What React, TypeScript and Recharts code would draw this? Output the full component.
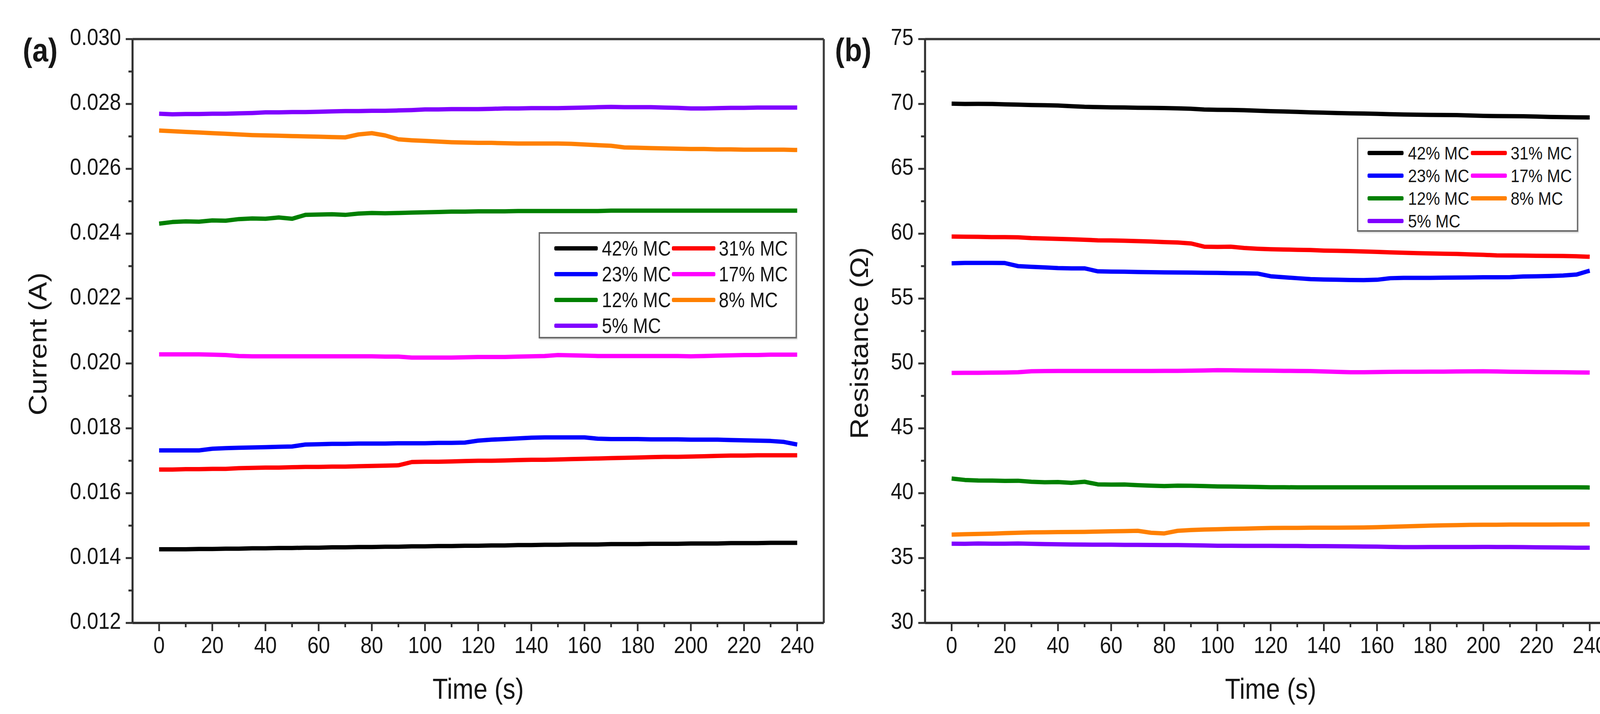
import React from 'react';
import { LineChart, Line, XAxis, YAxis, ReferenceLine } from 'recharts';

// sample times (s)
const times = [
  0, 5, 10, 15, 20, 25, 30, 35, 40, 45,
  50, 55, 60, 65, 70, 75, 80, 85, 90, 95,
  100, 105, 110, 115, 120, 125, 130, 135, 140, 145,
  150, 155, 160, 165, 170, 175, 180, 185, 190, 195,
  200, 205, 210, 215, 220, 225, 230, 235, 240,
];

const xTicks = [0, 10, 20, 30, 40, 50, 60, 70, 80, 90, 100, 110, 120, 130, 140, 150, 160, 170, 180, 190, 200, 210, 220, 230, 240];
const currentTicks = [0.012, 0.013, 0.014, 0.015, 0.016, 0.017, 0.018, 0.019, 0.020, 0.021, 0.022, 0.023, 0.024, 0.025, 0.026, 0.027, 0.028, 0.029, 0.030];
const resistanceTicks = [30, 32.5, 35, 37.5, 40, 42.5, 45, 47.5, 50, 52.5, 55, 57.5, 60, 62.5, 65, 67.5, 70, 72.5, 75];

const seriesNames = ['42% MC', '31% MC', '23% MC', '17% MC', '12% MC', '8% MC', '5% MC'];
const seriesKeys = ['mc42', 'mc31', 'mc23', 'mc17', 'mc12', 'mc8', 'mc5'];
const seriesColors = ['#000000', '#ff0000', '#0000ff', '#ff00ff', '#008000', '#ff8000', '#8000ff'];

// (a) current, A
const current42 = [
  0.01427, 0.01427, 0.01427, 0.01428, 0.01428, 0.01429, 0.01429, 0.01430, 0.01430, 0.01431,
  0.01431, 0.01432, 0.01432, 0.01433, 0.01433, 0.01434, 0.01434, 0.01435, 0.01435, 0.01436,
  0.01436, 0.01437, 0.01437, 0.01438, 0.01438, 0.01439, 0.01439, 0.01440, 0.01440, 0.01441,
  0.01441, 0.01442, 0.01442, 0.01442, 0.01443, 0.01443, 0.01443, 0.01444, 0.01444, 0.01444,
  0.01445, 0.01445, 0.01445, 0.01446, 0.01446, 0.01446, 0.01447, 0.01447, 0.01447,
];
const current31 = [
  0.01673, 0.01673, 0.01674, 0.01674, 0.01675, 0.01675, 0.01677, 0.01678, 0.01679, 0.01679,
  0.01680, 0.01681, 0.01681, 0.01682, 0.01682, 0.01683, 0.01684, 0.01685, 0.01686, 0.01696,
  0.01697, 0.01697, 0.01698, 0.01699, 0.01700, 0.01700, 0.01701, 0.01702, 0.01703, 0.01703,
  0.01704, 0.01705, 0.01706, 0.01707, 0.01708, 0.01709, 0.01710, 0.01711, 0.01712, 0.01712,
  0.01713, 0.01714, 0.01715, 0.01716, 0.01716, 0.01717, 0.01717, 0.01717, 0.01717,
];
const current23 = [
  0.01732, 0.01732, 0.01732, 0.01732, 0.01737, 0.01739, 0.01740, 0.01741, 0.01742, 0.01743,
  0.01744, 0.01750, 0.01751, 0.01752, 0.01752, 0.01753, 0.01753, 0.01753, 0.01754, 0.01754,
  0.01754, 0.01755, 0.01755, 0.01756, 0.01762, 0.01765, 0.01767, 0.01769, 0.01771, 0.01772,
  0.01772, 0.01772, 0.01772, 0.01768, 0.01767, 0.01767, 0.01767, 0.01766, 0.01766, 0.01766,
  0.01765, 0.01765, 0.01765, 0.01764, 0.01763, 0.01762, 0.01761, 0.01758, 0.01750,
];
const current17 = [
  0.02028, 0.02028, 0.02028, 0.02028, 0.02027, 0.02026, 0.02023, 0.02022, 0.02022, 0.02022,
  0.02022, 0.02022, 0.02022, 0.02022, 0.02022, 0.02022, 0.02022, 0.02021, 0.02021, 0.02018,
  0.02018, 0.02018, 0.02018, 0.02019, 0.02020, 0.02020, 0.02020, 0.02021, 0.02022, 0.02023,
  0.02026, 0.02025, 0.02024, 0.02023, 0.02023, 0.02023, 0.02023, 0.02023, 0.02023, 0.02023,
  0.02022, 0.02023, 0.02024, 0.02025, 0.02026, 0.02026, 0.02027, 0.02027, 0.02027,
];
const current12 = [
  0.02431, 0.02436, 0.02438, 0.02437, 0.02441, 0.02440, 0.02445, 0.02447, 0.02446, 0.02450,
  0.02446, 0.02458, 0.02459, 0.02460, 0.02458, 0.02462, 0.02464, 0.02463, 0.02464, 0.02465,
  0.02466, 0.02467, 0.02468, 0.02468, 0.02469, 0.02469, 0.02469, 0.02470, 0.02470, 0.02470,
  0.02470, 0.02470, 0.02470, 0.02470, 0.02471, 0.02471, 0.02471, 0.02471, 0.02471, 0.02471,
  0.02471, 0.02471, 0.02471, 0.02471, 0.02471, 0.02471, 0.02471, 0.02471, 0.02471,
];
const current8 = [
  0.02718, 0.02716, 0.02714, 0.02712, 0.02710, 0.02708, 0.02706, 0.02704, 0.02703, 0.02702,
  0.02701, 0.02700, 0.02699, 0.02698, 0.02697, 0.02706, 0.02710, 0.02703, 0.02691, 0.02688,
  0.02686, 0.02684, 0.02682, 0.02681, 0.02680, 0.02680, 0.02679, 0.02678, 0.02678, 0.02678,
  0.02678, 0.02677, 0.02675, 0.02673, 0.02671, 0.02666, 0.02665, 0.02664, 0.02663, 0.02662,
  0.02661, 0.02661, 0.02660, 0.02660, 0.02659, 0.02659, 0.02659, 0.02659, 0.02658,
];
const current5 = [
  0.02770, 0.02768, 0.02769, 0.02769, 0.02770, 0.02770, 0.02771, 0.02772, 0.02774, 0.02774,
  0.02775, 0.02775, 0.02776, 0.02777, 0.02778, 0.02778, 0.02779, 0.02779, 0.02780, 0.02781,
  0.02783, 0.02783, 0.02784, 0.02784, 0.02784, 0.02785, 0.02786, 0.02786, 0.02787, 0.02787,
  0.02787, 0.02788, 0.02789, 0.02790, 0.02791, 0.02790, 0.02790, 0.02790, 0.02789, 0.02788,
  0.02786, 0.02786, 0.02787, 0.02788, 0.02788, 0.02789, 0.02789, 0.02789, 0.02789,
];

// (b) resistance, ohm
const resistance42 = [
  70.02, 70.00, 70.01, 70.00, 69.97, 69.95, 69.92, 69.90, 69.88, 69.83,
  69.78, 69.76, 69.74, 69.73, 69.71, 69.70, 69.68, 69.66, 69.63, 69.57,
  69.55, 69.54, 69.52, 69.48, 69.44, 69.42, 69.39, 69.35, 69.33, 69.30,
  69.28, 69.26, 69.24, 69.21, 69.19, 69.17, 69.16, 69.15, 69.14, 69.11,
  69.08, 69.07, 69.06, 69.05, 69.03, 69.00, 68.98, 68.97, 68.96,
];
const resistance31 = [
  59.78, 59.77, 59.76, 59.74, 59.74, 59.72, 59.66, 59.63, 59.60, 59.57,
  59.53, 59.49, 59.48, 59.46, 59.43, 59.40, 59.35, 59.32, 59.25, 59.00,
  58.98, 59.00, 58.90, 58.84, 58.80, 58.78, 58.76, 58.74, 58.70, 58.68,
  58.66, 58.63, 58.60, 58.56, 58.53, 58.50, 58.48, 58.46, 58.44, 58.40,
  58.37, 58.33, 58.32, 58.31, 58.30, 58.29, 58.28, 58.26, 58.22,
];
const resistance23 = [
  57.72, 57.75, 57.75, 57.75, 57.74, 57.50, 57.45, 57.40, 57.35, 57.33,
  57.33, 57.10, 57.08, 57.07, 57.05, 57.03, 57.02, 57.01, 57.00, 56.99,
  56.98, 56.96, 56.95, 56.93, 56.72, 56.64, 56.57, 56.50, 56.47, 56.45,
  56.43, 56.42, 56.45, 56.57, 56.60, 56.60, 56.60, 56.61, 56.62, 56.63,
  56.64, 56.64, 56.65, 56.70, 56.72, 56.74, 56.78, 56.85, 57.15,
];
const resistance17 = [
  49.27, 49.28, 49.28, 49.29, 49.30, 49.32, 49.40, 49.41, 49.42, 49.42,
  49.42, 49.42, 49.42, 49.42, 49.42, 49.42, 49.43, 49.43, 49.44, 49.46,
  49.48, 49.47, 49.46, 49.45, 49.44, 49.43, 49.42, 49.41, 49.38, 49.35,
  49.32, 49.32, 49.34, 49.35, 49.36, 49.36, 49.37, 49.37, 49.38, 49.39,
  49.40, 49.38, 49.36, 49.35, 49.34, 49.33, 49.32, 49.31, 49.30,
];
const resistance12 = [
  41.13, 41.02, 40.98, 40.97, 40.95, 40.96, 40.88, 40.84, 40.86, 40.80,
  40.88, 40.68, 40.66, 40.67, 40.62, 40.58, 40.55, 40.58, 40.57, 40.55,
  40.52, 40.51, 40.50, 40.48, 40.46, 40.46, 40.45, 40.45, 40.45, 40.45,
  40.45, 40.45, 40.45, 40.45, 40.45, 40.45, 40.45, 40.45, 40.45, 40.45,
  40.45, 40.45, 40.45, 40.45, 40.45, 40.45, 40.45, 40.45, 40.44,
];
const resistance8 = [
  36.81, 36.84, 36.86, 36.88, 36.92, 36.95, 36.98, 36.99, 37.00, 37.01,
  37.02, 37.04, 37.06, 37.08, 37.10, 36.95, 36.90, 37.10, 37.16, 37.20,
  37.22, 37.25, 37.27, 37.30, 37.32, 37.33, 37.33, 37.34, 37.34, 37.34,
  37.35, 37.36, 37.38, 37.41, 37.44, 37.47, 37.50, 37.52, 37.54, 37.56,
  37.57, 37.57, 37.58, 37.58, 37.58, 37.58, 37.59, 37.59, 37.60,
];
const resistance5 = [
  36.11, 36.10, 36.12, 36.11, 36.11, 36.12, 36.10, 36.08, 36.06, 36.05,
  36.04, 36.03, 36.03, 36.02, 36.02, 36.01, 36.00, 36.00, 35.99, 35.97,
  35.95, 35.95, 35.94, 35.94, 35.94, 35.93, 35.93, 35.92, 35.92, 35.91,
  35.90, 35.89, 35.88, 35.86, 35.84, 35.84, 35.85, 35.85, 35.85, 35.85,
  35.86, 35.85, 35.85, 35.84, 35.83, 35.82, 35.81, 35.80, 35.80,
];

const currentSeries = [current42, current31, current23, current17, current12, current8, current5];
const resistanceSeries = [resistance42, resistance31, resistance23, resistance17, resistance12, resistance8, resistance5];

const buildRows = (series: number[][]) =>
  times.map((t, i) => {
    const row: any = { t };
    seriesKeys.forEach((k, j) => {
      row[k] = series[j][i];
    });
    return row;
  });

const currentData = buildRows(currentSeries);
const resistanceData = buildRows(resistanceSeries);

// the original figure is squeezed horizontally; draw wide and scale down
const SQUEEZE = 0.87;
const FONT = '"Liberation Sans", Arial, Helvetica, sans-serif';
const INK = '#161616';
const AXIS = '#303030';

const YTick = (props: any) => {
  const { x, y, payload, isMajor, fmt } = props;
  const major = isMajor(payload.value);
  return (
    <g>
      <line x1={x} y1={y} x2={x - (major ? 20 : 12)} y2={y} stroke={AXIS} strokeWidth={5} />
      {major && (
        <text x={x - 34} y={y + 15} textAnchor="end" fontSize={60} fontFamily={FONT} fill={INK}>
          {fmt(payload.value)}
        </text>
      )}
    </g>
  );
};

const XTick = (props: any) => {
  const { x, y, payload } = props;
  const major = payload.value % 20 === 0;
  return (
    <g>
      <line x1={x} y1={y} x2={x} y2={y + (major ? 21 : 11)} stroke={AXIS} strokeWidth={5} />
      {major && (
        <text x={x} y={y + 77} textAnchor="middle" fontSize={60} fontFamily={FONT} fill={INK}>
          {payload.value}
        </text>
      )}
    </g>
  );
};

interface PanelProps {
  data: any[];
  width: number;
  yAxisWidth: number;
  marginRight: number;
  domain: [number, number];
  yTicks: number[];
  isMajor: (v: number) => boolean;
  fmt: (v: number) => string;
}

function Panel({ data, width, yAxisWidth, marginRight, domain, yTicks, isMajor, fmt }: PanelProps) {
  return (
    <LineChart
      width={width}
      height={1827}
      data={data}
      margin={{ top: 100, right: marginRight, bottom: 0, left: 0 }}
    >
      <XAxis
        dataKey="t"
        type="number"
        domain={[-10, 250]}
        ticks={xTicks}
        interval={0}
        height={233}
        tickSize={0}
        tickMargin={0}
        tickLine={false}
        axisLine={{ stroke: AXIS, strokeWidth: 6 }}
        tick={(p: any) => <XTick {...p} />}
        allowDataOverflow
        label={{
          value: 'Time (s)',
          position: 'insideBottom',
          offset: 39,
          style: { fontSize: 74, fontFamily: FONT, fill: INK },
        }}
      />
      <YAxis
        type="number"
        domain={domain}
        ticks={yTicks}
        interval={0}
        width={yAxisWidth}
        tickSize={0}
        tickMargin={0}
        tickLine={false}
        axisLine={{ stroke: AXIS, strokeWidth: 6 }}
        tick={(p: any) => <YTick {...p} isMajor={isMajor} fmt={fmt} />}
        allowDataOverflow
      />
      <ReferenceLine y={domain[1]} stroke="#3c3c3c" strokeWidth={6} />
      <ReferenceLine x={250} stroke="#3c3c3c" strokeWidth={6} />
      {seriesKeys.map((k, i) => (
        <Line
          key={k}
          type="linear"
          dataKey={k}
          name={seriesNames[i]}
          stroke={seriesColors[i]}
          strokeWidth={11}
          strokeLinejoin="round"
          dot={false}
          activeDot={false}
          isAnimationActive={false}
        />
      ))}
    </LineChart>
  );
}

interface LegendProps {
  left: number;
  top: number;
  width: number;
  height: number;
  rowTop: number;
  rowGap: number;
  lineX: [number, number];
  textX: [number, number];
  lineLen: number;
  fontSize: number;
}

function LegendBox({ left, top, width, height, rowTop, rowGap, lineX, textX, lineLen, fontSize }: LegendProps) {
  return (
    <div
      style={{
        position: 'absolute',
        left,
        top,
        width,
        height,
        boxSizing: 'border-box',
        border: '4px solid #6a6a6a',
        boxShadow: '2px 3px 3px rgba(0,0,0,0.18)',
        background: '#ffffff',
      }}
    >
      {seriesNames.map((name, i) => {
        const col = i % 2;
        const row = Math.floor(i / 2);
        const cy = rowTop + row * rowGap - 4;
        return (
          <React.Fragment key={name}>
            <div
              style={{
                position: 'absolute',
                left: lineX[col] - 4,
                top: cy - 5,
                width: lineLen,
                height: 11,
                borderRadius: 4,
                background: seriesColors[i],
              }}
            />
            <div
              style={{
                position: 'absolute',
                left: textX[col] - 4,
                top: cy - fontSize / 2,
                fontSize,
                lineHeight: `${fontSize}px`,
                fontFamily: FONT,
                color: INK,
                whiteSpace: 'nowrap',
              }}
            >
              {name}
            </div>
          </React.Fragment>
        );
      })}
    </div>
  );
}

const textAbs = (left: number, top: number, size: number, bold = false): React.CSSProperties => ({
  position: 'absolute',
  left,
  top,
  fontSize: size,
  lineHeight: `${size}px`,
  fontFamily: FONT,
  fontWeight: bold ? 700 : 400,
  color: INK,
  whiteSpace: 'nowrap',
});

const yTitle = (cx: number, cy: number): React.CSSProperties => ({
  position: 'absolute',
  left: cx,
  top: cy,
  fontSize: 74,
  lineHeight: '74px',
  fontFamily: FONT,
  color: INK,
  whiteSpace: 'nowrap',
  transform: 'translate(-50%, -50%) rotate(-90deg)',
});

export default function App() {
  const innerWidth = Math.round(4196 / SQUEEZE);
  return (
    <div
      style={{
        position: 'absolute',
        left: 0,
        top: 0,
        width: 4196,
        height: 1827,
        overflow: 'hidden',
        background: '#ffffff',
      }}
    >
      <div
        style={{
          position: 'relative',
          width: innerWidth,
          height: 1827,
          transform: `scaleX(${SQUEEZE})`,
          transformOrigin: '0 0',
        }}
      >
        <div style={{ position: 'absolute', left: 0, top: 0 }}>
          <Panel
            data={currentData}
            width={2440}
            yAxisWidth={390}
            marginRight={16}
            domain={[0.012, 0.03]}
            yTicks={currentTicks}
            isMajor={(v) => Math.round(v * 1000) % 2 === 0}
            fmt={(v) => v.toFixed(3)}
          />
        </div>
        <div style={{ position: 'absolute', left: 2440, top: 0 }}>
          <Panel
            data={resistanceData}
            width={innerWidth - 2440}
            yAxisWidth={282}
            marginRight={innerWidth - 4756}
            domain={[30, 75]}
            yTicks={resistanceTicks}
            isMajor={(v) => v % 5 === 0}
            fmt={(v) => String(v)}
          />
        </div>

        <div style={textAbs(67, 86, 84, true)}>(a)</div>
        <div style={textAbs(2457, 86, 84, true)}>(b)</div>
        <div style={yTitle(112, 880)}>Current (A)</div>
        <div style={yTitle(2529, 878)}>Resistance (Ω)</div>

        <LegendBox
          left={1585}
          top={594}
          width={760}
          height={272}
          rowTop={41}
          rowGap={66}
          lineX={[46, 392]}
          textX={[186, 530]}
          lineLen={128}
          fontSize={53}
        />
        <LegendBox
          left={3993}
          top={352}
          width={651}
          height={241}
          rowTop={39}
          rowGap={58}
          lineX={[31, 335]}
          textX={[150, 452]}
          lineLen={106}
          fontSize={47}
        />
      </div>
    </div>
  );
}
